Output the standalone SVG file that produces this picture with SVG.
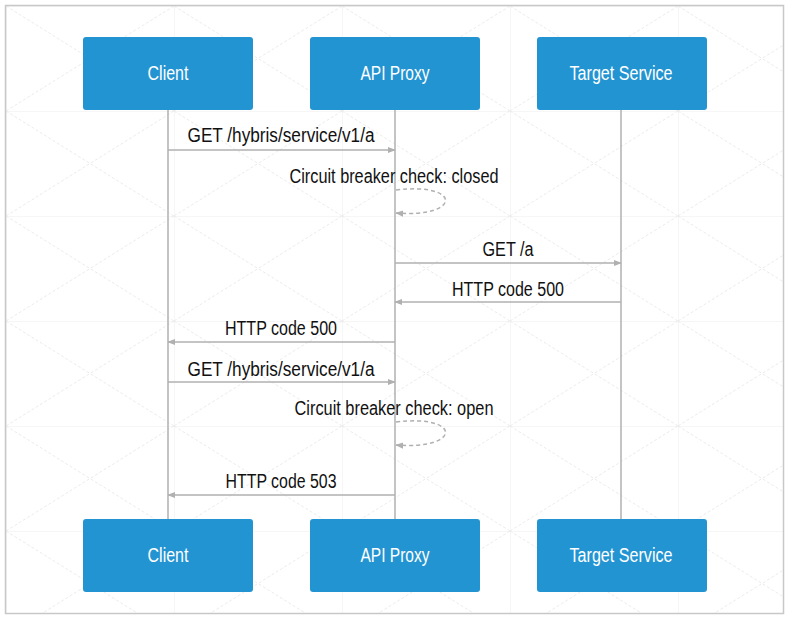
<svg xmlns="http://www.w3.org/2000/svg" width="790" height="624" viewBox="0 0 790 624">
<style>
.box{fill:#2394d2;}
.ntext{font-family:"Liberation Sans",Arial,sans-serif;font-size:20px;fill:#ffffff;text-anchor:middle;}
.mtext{font-family:"Liberation Sans",Arial,sans-serif;font-size:19.5px;fill:#111111;text-anchor:middle;}
.life{stroke:#b0b0b0;stroke-width:1.5;fill:none;}
.msg{stroke:#b0b0b0;stroke-width:1.5;fill:none;marker-end:url(#arr);}
.self{stroke:#b0b0b0;stroke-width:1.5;fill:none;stroke-dasharray:4 3;marker-end:url(#arr);}
</style>
<defs>
<marker id="arr" viewBox="0 0 10 10" refX="9" refY="5" markerWidth="8" markerHeight="8" markerUnits="userSpaceOnUse" orient="auto">
<path d="M0,1 L10,5 L0,9 Z" fill="#b0b0b0"/>
</marker>
<pattern id="grid" x="6" y="6" width="168" height="105" patternUnits="userSpaceOnUse">
<path d="M0,0 H168 M0,0 V105" stroke="#f3f3f3" stroke-width="1.5" fill="none"/>
<path d="M0,0 L168,105 M168,0 L0,105" stroke="#ebebeb" stroke-width="1" stroke-dasharray="3 2" fill="none"/>
</pattern>
</defs>
<rect x="0" y="0" width="790" height="624" fill="#ffffff"/>
<rect x="6" y="6" width="778" height="608" fill="url(#grid)"/>
<rect x="5.5" y="5.5" width="778" height="608" fill="none" stroke="#c8c8c8" stroke-width="1.5"/>

<g id="connectors">
<line class="life" x1="168" y1="110" x2="168" y2="519"/>
<line class="life" x1="395" y1="110" x2="395" y2="519"/>
<line class="life" x1="621" y1="110" x2="621" y2="519"/>

<line class="msg" x1="168" y1="150" x2="395" y2="150"/>
<text class="mtext" x="281" y="142" textLength="187" lengthAdjust="spacingAndGlyphs">GET /hybris/service/v1/a</text>

<path class="self" d="M396,190 C462,182 462,218 396,213"/>
<text class="mtext" x="394" y="183" textLength="209" lengthAdjust="spacingAndGlyphs">Circuit breaker check: closed</text>

<line class="msg" x1="395" y1="263" x2="621" y2="263"/>
<text class="mtext" x="508" y="256" textLength="51" lengthAdjust="spacingAndGlyphs">GET /a</text>

<line class="msg" x1="621" y1="302" x2="395" y2="302"/>
<text class="mtext" x="508" y="296" textLength="112" lengthAdjust="spacingAndGlyphs">HTTP code 500</text>

<line class="msg" x1="395" y1="342" x2="168" y2="342"/>
<text class="mtext" x="281" y="335" textLength="112" lengthAdjust="spacingAndGlyphs">HTTP code 500</text>

<line class="msg" x1="168" y1="382" x2="395" y2="382"/>
<text class="mtext" x="281" y="376" textLength="187" lengthAdjust="spacingAndGlyphs">GET /hybris/service/v1/a</text>

<path class="self" d="M396,422 C462,414 462,450 396,445"/>
<text class="mtext" x="394" y="415" textLength="199" lengthAdjust="spacingAndGlyphs">Circuit breaker check: open</text>

<line class="msg" x1="395" y1="495" x2="168" y2="495"/>
<text class="mtext" x="281" y="488" textLength="111" lengthAdjust="spacingAndGlyphs">HTTP code 503</text>
</g>

<g id="client-top"><rect class="box" x="83" y="37" width="170" height="73" rx="3"/><text class="ntext" x="168" y="80" textLength="41" lengthAdjust="spacingAndGlyphs">Client</text></g>
<g id="proxy-top"><rect class="box" x="310" y="37" width="170" height="73" rx="3"/><text class="ntext" x="395" y="80" textLength="69" lengthAdjust="spacingAndGlyphs">API Proxy</text></g>
<g id="target-top"><rect class="box" x="537" y="37" width="170" height="73" rx="3"/><text class="ntext" x="621" y="80" textLength="103" lengthAdjust="spacingAndGlyphs">Target Service</text></g>
<g id="client-bottom"><rect class="box" x="83" y="519" width="170" height="73" rx="3"/><text class="ntext" x="168" y="562" textLength="41" lengthAdjust="spacingAndGlyphs">Client</text></g>
<g id="proxy-bottom"><rect class="box" x="310" y="519" width="170" height="73" rx="3"/><text class="ntext" x="395" y="562" textLength="69" lengthAdjust="spacingAndGlyphs">API Proxy</text></g>
<g id="target-bottom"><rect class="box" x="537" y="519" width="170" height="73" rx="3"/><text class="ntext" x="621" y="562" textLength="103" lengthAdjust="spacingAndGlyphs">Target Service</text></g>
</svg>
